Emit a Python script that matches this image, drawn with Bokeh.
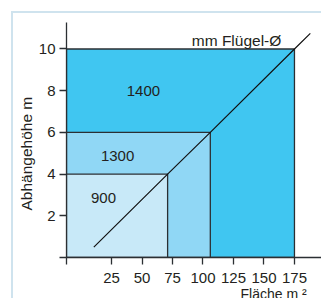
from bokeh.plotting import figure
from bokeh.models import Label, FixedTicker, Range1d, Title
from bokeh.embed import file_html
from bokeh.resources import INLINE

# --- data ---
fan_diameters = ["900", "1300", "1400"]          # mm Flügel-Ø
max_area = [71, 106, 175]                         # Fläche m²
max_height = [4, 6, 10]                           # Abhängehöhe m
region_colors = ["#c8e9f8", "#90d7f5", "#40c6f1"]

line_x = [10.5, 71, 106, 175, 188]
line_y = [0.5, 4, 6, 10, 10.75]

x_ticks = [25, 50, 75, 100, 125, 150, 175]
y_ticks = [2, 4, 6, 8, 10]

X_MIN, X_MAX = -11.9, 198.8
Y_MAX = 11.27
FONT = "Liberation Sans"
TXT = "#231f20"
EDGE = "#2b2f33"

p = figure(width=310, height=287,
           x_range=Range1d(X_MIN, X_MAX), y_range=Range1d(0, Y_MAX),
           output_backend="svg", toolbar_location=None,
           min_border_left=53, min_border_right=0,
           min_border_top=9, min_border_bottom=40,
           margin=(11, 0, 0, 11))
p.styles = {"border-left": "2px solid #cfe3ee", "border-top": "2px solid #cfe3ee"}
p.xgrid.visible = False
p.ygrid.visible = False
p.outline_line_color = None

# regions, drawn largest first
for i in reversed(range(len(fan_diameters))):
    p.quad(left=X_MIN, right=max_area[i], bottom=0, top=max_height[i],
           fill_color=region_colors[i], line_color=EDGE, line_width=1.3)

p.line(line_x, line_y, line_color="#111111", line_width=1.2)

# axes
for ax in (p.xaxis[0], p.yaxis[0]):
    ax.axis_line_color = EDGE
    ax.axis_line_width = 1.3
    ax.major_tick_line_color = EDGE
    ax.major_tick_line_width = 1.3
    ax.major_tick_in = 0
    ax.major_tick_out = 7
    ax.minor_tick_line_color = None
    ax.major_label_text_font = FONT
    ax.major_label_text_font_size = "15px"
    ax.major_label_text_color = TXT

p.xaxis.ticker = FixedTicker(ticks=[X_MIN] + x_ticks)
p.xaxis.major_label_overrides = {X_MIN: ""}
p.xaxis.major_label_standoff = 8
p.yaxis.ticker = FixedTicker(ticks=[0] + y_ticks)
p.yaxis.major_label_overrides = {0: ""}
p.yaxis.major_label_standoff = 4

label_pos = [(18.4, 2.85), (30.0, 4.87), (51.2, 8.0)]
for name, (lx, ly) in zip(fan_diameters, label_pos):
    p.add_layout(Label(x=lx, y=ly, text=name, text_align="center",
                       text_baseline="middle", text_font=FONT,
                       text_font_size="15px", text_color=TXT))

p.add_layout(Label(x=127.5, y=10.4, text="mm Flügel-Ø", text_align="center",
                   text_baseline="alphabetic", text_font=FONT,
                   text_font_size="15.5px", text_color=TXT))

# axis titles
p.add_layout(Title(text="Abhängehöhe m", align="left", offset=47,
                   standoff=2, text_font=FONT, text_font_size="15.5px",
                   text_font_style="normal", text_color=TXT), "left")
p.add_layout(Title(text="Fläche m ²", align="left", offset=174,
                   standoff=-3, text_font=FONT, text_font_size="14px",
                   text_font_style="normal", text_color=TXT), "below")

open("out.html", "w").write(file_html(p, INLINE))
